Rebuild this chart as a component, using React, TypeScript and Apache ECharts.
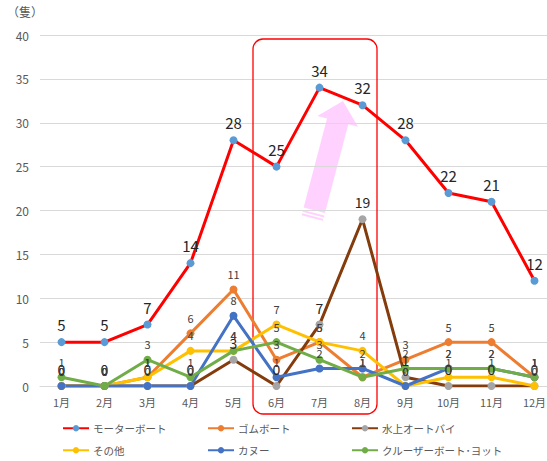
import React, { useEffect, useRef } from "react";
import * as echarts from "echarts";

const months = ["1月", "2月", "3月", "4月", "5月", "6月", "7月", "8月", "9月", "10月", "11月", "12月"];
const motorBoat = [5, 5, 7, 14, 28, 25, 34, 32, 28, 22, 21, 12];
const rubberBoat = [0, 0, 1, 6, 11, 3, 5, 1, 3, 5, 5, 1];
const waterBike = [0, 0, 0, 0, 3, 0, 7, 19, 1, 0, 0, 0];
const others = [0, 0, 1, 4, 4, 7, 5, 4, 0, 1, 1, 0];
const canoe = [0, 0, 0, 0, 8, 1, 2, 2, 0, 2, 2, 1];
const cruiser = [1, 0, 3, 1, 4, 5, 3, 1, 2, 2, 2, 1];
const yTicks = { min: 0, max: 40, interval: 5 };
const unitLabel = "（隻）";

const FONT = "'Noto Sans CJK JP', 'Noto Sans', sans-serif";

function mkSeries(name: string, data: number[], lineColor: string, markColor: string, fontSize: number, labelColor: string) {
  return {
    name,
    type: "line",
    data,
    symbol: "circle",
    symbolSize: 8,
    lineStyle: { color: lineColor, width: 3 },
    itemStyle: { color: markColor },
    label: {
      show: true,
      position: "top",
      distance: 6,
      fontSize,
      color: labelColor,
      fontFamily: FONT,
    },
    emphasis: { disabled: true },
  };
}

export default function App() {
  const ref = useRef<HTMLDivElement>(null);
  useEffect(() => {
    if (!ref.current) return;
    const chart = echarts.init(ref.current, undefined, { renderer: "svg" });
    const names = ["モーターボート", "ゴムボート", "水上オートバイ", "その他", "カヌー", "クルーザーボート･ヨット"];
    const legendPos = [
      [62, 423], [207, 423], [351, 423],
      [62, 445], [207, 445], [351, 445],
    ];
    chart.setOption({
      animation: false,
      textStyle: { fontFamily: FONT },
      grid: { left: 40, right: 14, top: 35, bottom: 75, containLabel: false },
      xAxis: {
        type: "category",
        data: months,
        boundaryGap: true,
        axisLine: { show: true, lineStyle: { color: "#D9D9D9", width: 1 } },
        axisTick: { show: false },
        axisLabel: { color: "#595959", fontSize: 11, margin: 10, fontFamily: FONT },
      },
      yAxis: {
        type: "value",
        min: yTicks.min,
        max: yTicks.max,
        interval: yTicks.interval,
        axisLine: { show: false },
        axisTick: { show: false },
        splitLine: { lineStyle: { color: "#D9D9D9", width: 1 } },
        axisLabel: { color: "#595959", fontSize: 12, margin: 11, fontFamily: FONT },
      },
      legend: names.map((n, i) => ({
        data: [n],
        left: legendPos[i][0],
        top: legendPos[i][1],
        padding: 0,
        itemWidth: 26,
        itemHeight: 8,
        itemGap: 4,
        selectedMode: false,
        textStyle: { color: "#595959", fontSize: 10.5, fontFamily: FONT, padding: [0, 0, 0, -1] },
      })),
      series: [
        mkSeries(names[0], motorBoat, "#FF0000", "#5B9BD5", 15, "#262626"),
        mkSeries(names[1], rubberBoat, "#ED7D31", "#ED7D31", 11, "#404040"),
        mkSeries(names[2], waterBike, "#843C0C", "#A5A5A5", 14, "#262626"),
        mkSeries(names[3], others, "#FFC000", "#FFC000", 11, "#404040"),
        mkSeries(names[4], canoe, "#4472C4", "#4472C4", 11, "#404040"),
        mkSeries(names[5], cruiser, "#70AD47", "#70AD47", 11, "#404040"),
      ],
      graphic: [
        {
          type: "text",
          left: 7,
          top: 5,
          style: { text: unitLabel, fontSize: 12, fill: "#595959", fontFamily: FONT },
        },
        {
          type: "rect",
          shape: { x: 253, y: 39, width: 124, height: 375, r: 10 },
          style: { fill: "none", stroke: "#FF0000", lineWidth: 1.3 },
          z: 1,
        },
        {
          type: "group",
          x: 312,
          y: 219,
          rotation: -0.257,
          z: 20,
          children: [
            {
              type: "polygon",
              shape: { points: [[-11, -9], [-11, -101], [-21, -101], [0, -122], [21, -101], [11, -101], [11, -9]] },
              style: { fill: "#FFCCFF", opacity: 0.9 },
            },
            {
              type: "rect",
              shape: { x: -11, y: -6.5, width: 22, height: 2 },
              style: { fill: "#FFCCFF", opacity: 0.9 },
            },
            {
              type: "rect",
              shape: { x: -11, y: -3, width: 22, height: 2 },
              style: { fill: "#FFCCFF", opacity: 0.9 },
            },
          ],
        },
      ],
    });
    return () => chart.dispose();
  }, []);
  return (
    <div style={{ position: "fixed", left: 0, top: 0, width: 547, height: 461, overflow: "hidden", background: "#fff" }}>
      <div ref={ref} style={{ width: 570, height: 461 }} />
    </div>
  );
}
